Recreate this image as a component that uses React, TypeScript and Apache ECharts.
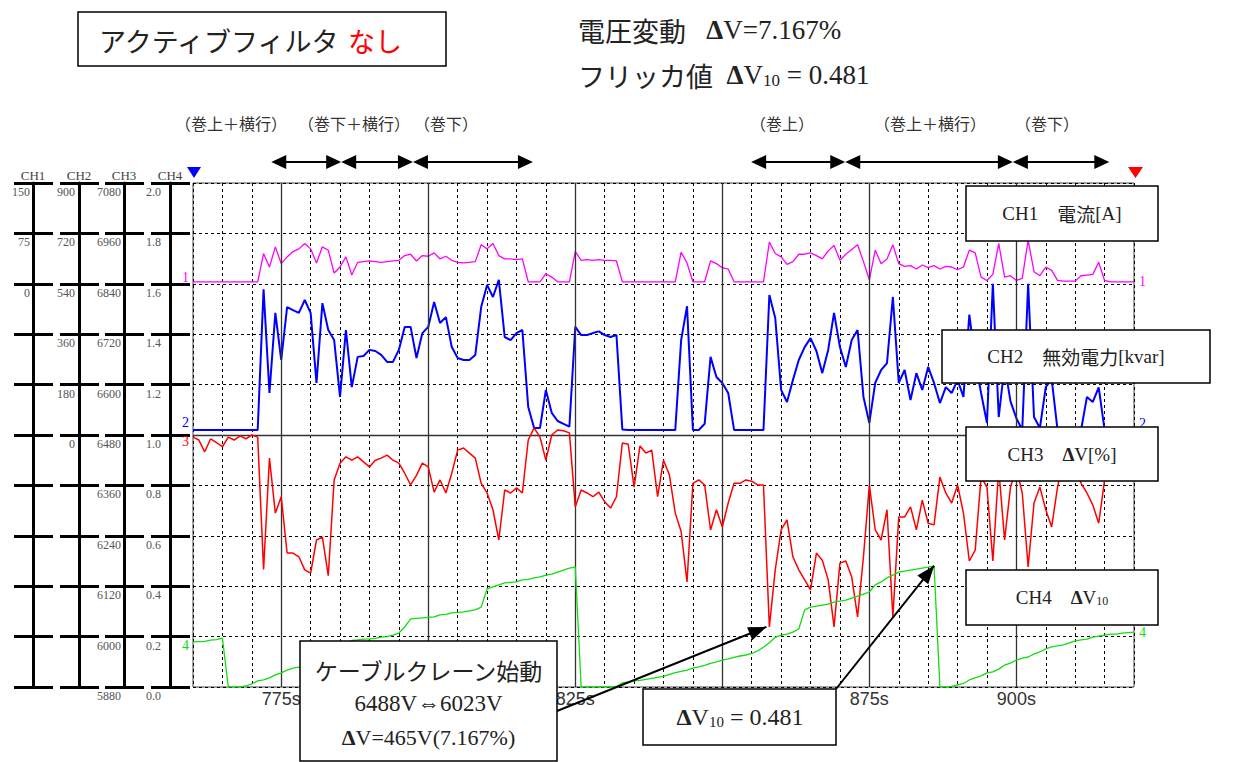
import React, { useEffect, useRef } from "react";
import * as echarts from "echarts";

// ---- time base (seconds) ----
const T0 = 760;
const STEP = 1;
const X_MIN = 760;
const X_MAX = 920;
const majorTimes = [775, 800, 825, 850, 875, 900];
// tick labels visible in the reference (800 s and 850 s sit under the note boxes)
const xTickLabels = [775, 825, 875, 900];

// ---- CH1 current [A], one value per second from 760 s ----
const ch1Current = [
  3, 3, 3, 3, 3, 3, 3, 3, 3, 3,
  3, 3, 45, 25, 55, 30, 40, 48, 52, 60,
  52, 31, 55, 50, 16, 25, 40, 13, 32, 33,
  34, 33, 32, 33, 34, 35, 42, 44, 34, 42,
  41, 46, 37, 41, 35, 32, 31, 32, 33, 58,
  52, 60, 42, 37, 37, 36, 37, 3, 3, 3,
  15, 10, 3, 3, 3, 48, 35, 36, 35, 36,
  35, 35, 34, 3, 3, 3, 3, 3, 3, 3,
  3, 3, 3, 47, 31, 3, 3, 3, 34, 30,
  24, 22, 3, 3, 3, 3, 3, 3, 62, 45,
  40, 29, 33, 44, 44, 46, 42, 37, 49, 57,
  35, 44, 51, 58, 33, 6, 50, 30, 37, 58,
  30, 26, 27, 22, 28, 24, 27, 22, 26, 25,
  21, 25, 50, 46, 10, 5, 14, 60, 10, 12,
  5, 8, 65, 18, 12, 25, 20, 5, 4, 4,
  4, 12, 13, 14, 32, 5, 3, 3, 3, 3,
  3,
];

// ---- CH2 reactive power [kvar] ----
const ch2Reactive = [
  18, 18, 18, 18, 18, 18, 18, 18, 18, 18,
  18, 18, 520, 150, 436, 268, 457, 446, 436, 482,
  436, 186, 471, 375, 339, 136, 375, 171, 279, 282,
  304, 300, 286, 261, 261, 304, 386, 386, 275, 364,
  386, 475, 400, 421, 314, 275, 268, 268, 286, 457,
  536, 493, 554, 350, 339, 364, 375, 100, 25, 25,
  161, 79, 50, 40, 30, 386, 357, 357, 364, 370,
  357, 350, 357, 20, 18, 18, 18, 18, 18, 18,
  18, 18, 18, 339, 460, 18, 18, 40, 279, 207,
  186, 150, 18, 18, 18, 18, 18, 18, 500, 418,
  161, 118, 196, 268, 314, 346, 300, 221, 304, 436,
  314, 243, 339, 375, 136, 43, 186, 232, 257, 493,
  186, 232, 125, 221, 161, 243, 186, 114, 171, 150,
  196, 136, 430, 264, 150, 43, 540, 64, 250, 120,
  60, 18, 540, 64, 25, 171, 200, 18, 18, 18,
  18, 18, 136, 118, 170, 18, 18, 18, 18, 18,
  18,
];

// ---- CH3 voltage [V] ----
const ch3Voltage = [
  6475, 6468, 6440, 6471, 6462, 6452, 6475, 6468, 6478, 6471,
  6480, 6475, 6160, 6425, 6294, 6333, 6199, 6199, 6190, 6159,
  6151, 6230, 6237, 6145, 6373, 6413, 6428, 6420, 6428, 6416,
  6404, 6420, 6425, 6432, 6420, 6413, 6389, 6361, 6384, 6413,
  6404, 6344, 6373, 6342, 6389, 6444, 6449, 6437, 6425, 6365,
  6342, 6302, 6230, 6349, 6342, 6354, 6342, 6468, 6497, 6475,
  6420, 6480, 6492, 6490, 6485, 6309, 6349, 6342, 6333, 6344,
  6321, 6306, 6333, 6461, 6458, 6356, 6454, 6437, 6444, 6333,
  6420, 6385, 6294, 6250, 6130, 6365, 6373, 6361, 6254, 6302,
  6261, 6318, 6365, 6365, 6373, 6370, 6361, 6361, 6023, 6159,
  6254, 6278, 6190, 6159, 6135, 6111, 6199, 6182, 6135, 6023,
  6175, 6180, 6142, 6047, 6190, 6361, 6254, 6230, 6302, 6047,
  6285, 6285, 6309, 6254, 6325, 6270, 6266, 6380, 6342, 6318,
  6361, 6294, 6180, 6206, 6380, 6356, 6180, 6400, 6230, 6356,
  6400, 6342, 6166, 6318, 6356, 6302, 6261, 6356, 6420, 6440,
  6410, 6365, 6342, 6313, 6270, 6373, 6470, 6470, 6470, 6470,
  6470,
];

// ---- CH4 short-term flicker ΔV10 ----
const ch4Flicker = [
  0.179, 0.18, 0.181, 0.186, 0.188, 0.194, 0, 0, 0, 0.004,
  0.012, 0.024, 0.028, 0.036, 0.048, 0.056, 0.067, 0.075, 0.079, 0.083,
  0.087, 0.092, 0.097, 0.102, 0.11, 0.14, 0.165, 0.185, 0.187, 0.19,
  0.191, 0.193, 0.198, 0.2, 0.206, 0.214, 0.238, 0.27, 0.272, 0.274,
  0.276, 0.278, 0.286, 0.288, 0.294, 0.296, 0.298, 0.302, 0.306, 0.317,
  0.389, 0.397, 0.405, 0.413, 0.415, 0.417, 0.425, 0.427, 0.433, 0.437,
  0.444, 0.448, 0.456, 0.464, 0.472, 0.476, 0, 0, 0, 0,
  0, 0, 0.002, 0.016, 0.02, 0.024, 0.026, 0.03, 0.034, 0.038,
  0.042, 0.05, 0.057, 0.062, 0.067, 0.075, 0.08, 0.086, 0.094, 0.1,
  0.107, 0.112, 0.118, 0.123, 0.127, 0.133, 0.143, 0.158, 0.176, 0.197,
  0.206, 0.21, 0.218, 0.23, 0.306, 0.317, 0.321, 0.325, 0.329, 0.337,
  0.341, 0.345, 0.353, 0.361, 0.369, 0.377, 0.405, 0.417, 0.433, 0.444,
  0.456, 0.46, 0.464, 0.468, 0.472, 0.476, 0.481, 0, 0, 0.002,
  0.008, 0.014, 0.028, 0.036, 0.044, 0.056, 0.06, 0.071, 0.087, 0.095,
  0.107, 0.115, 0.119, 0.131, 0.139, 0.151, 0.159, 0.163, 0.167, 0.175,
  0.183, 0.187, 0.19, 0.198, 0.202, 0.206, 0.21, 0.21, 0.214, 0.216,
  0.218,
];

// ---- scale labels, top to bottom ----
const ch1Labels = ["150", "75", "0", "", "", "", "", "", "", "", ""];
const ch2Labels = ["900", "720", "540", "360", "180", "0", "", "", "", "", ""];
const ch3Labels = ["7080", "6960", "6840", "6720", "6600", "6480", "6360", "6240", "6120", "6000", "5880"];
const ch4Labels = ["2.0", "1.8", "1.6", "1.4", "1.2", "1.0", "0.8", "0.6", "0.4", "0.2", "0.0"];

// ---- crane operation phases (seconds) ----
const phaseStart = [773.3, 785.2, 797.4, 854.9, 870.9, 899.4];
const phaseEnd = [785.2, 797.4, 817.8, 870.9, 899.4, 915.8];
const phaseLabels = ["（巻上＋横行）", "（巻下＋横行）", "（巻下）", "（巻上）", "（巻上＋横行）", "（巻下）"];

const SERIF = "'Liberation Serif','DejaVu Serif','Noto Sans CJK JP',serif";
const JP = "'Noto Sans CJK JP','Liberation Serif',serif";
const SANS = "'Liberation Sans',Arial,sans-serif";

const COLORS = ["#ff00ff", "#0000ff", "#ff0000", "#11dd11"];

function rich(size: number, color = "#222") {
  return {
    j: { fontFamily: JP, fontSize: size, fill: color, color },
    l: { fontFamily: SERIF, fontSize: size, fill: color, color },
    d: { fontFamily: SERIF, fontSize: size, fontWeight: "bold", fill: color, color },
    r: { fontFamily: JP, fontSize: size, fill: "#ff0000", color: "#ff0000" },
    sub: { fontFamily: SERIF, fontSize: Math.round(size * 0.62), fill: color, color, verticalAlign: "bottom" },
  };
}

function head(tip: number[], from: number[], len: number, half: number) {
  const dx = tip[0] - from[0];
  const dy = tip[1] - from[1];
  const L = Math.hypot(dx, dy) || 1;
  const ux = dx / L;
  const uy = dy / L;
  const bx = tip[0] - ux * len;
  const by = tip[1] - uy * len;
  return {
    type: "polygon",
    z: 100,
    shape: { points: [[tip[0], tip[1]], [bx - uy * half, by + ux * half], [bx + uy * half, by - ux * half]] },
    style: { fill: "#000" },
  };
}

export default function App() {
  const ref = useRef<HTMLDivElement>(null);

  useEffect(() => {
    const el = ref.current!;
    const chart = echarts.init(el, undefined, { renderer: "svg" });
    const toPairs = (arr: number[]) => arr.map((v, i) => [T0 + i * STEP, v]);

    const channels = [
      { name: "CH1", min: -600, max: 150, interval: 75, offset: 160, margin: 3, labels: ch1Labels },
      { name: "CH2", min: -900, max: 900, interval: 180, offset: 114, margin: 4, labels: ch2Labels },
      { name: "CH3", min: 5880, max: 7080, interval: 120, offset: 69, margin: 3, labels: ch3Labels },
      { name: "CH4", min: 0, max: 2, interval: 0.2, offset: 23, margin: 9, labels: ch4Labels },
    ];

    const yAxes: any[] = [];
    channels.forEach((c, k) => {
      yAxes.push({
        type: "value",
        position: "left",
        offset: c.offset,
        min: c.min,
        max: c.max,
        interval: c.interval,
        name: c.name,
        nameLocation: "end",
        nameGap: 1,
        nameTextStyle: { color: "#444", fontFamily: SERIF, fontSize: 13, align: "center", verticalAlign: "bottom" },
        axisLine: { show: true, onZero: false, lineStyle: { color: "#000", width: 3 } },
        axisTick: { show: true, inside: false, length: 19, lineStyle: { color: "#000", width: 3 } },
        axisLabel: {
          show: true,
          margin: c.margin,
          color: "#555555",
          fontFamily: SERIF,
          fontSize: 12,
          verticalAlign: "top",
          padding: [3, 0, 0, 0],
          formatter: (_v: number, i: number) => c.labels[c.labels.length - 1 - i] ?? "",
        },
        splitLine: { show: k === 0, lineStyle: { color: "#000", type: [3, 3], width: 1 } },
      });
      yAxes.push({
        type: "value",
        position: "left",
        offset: c.offset,
        min: c.min,
        max: c.max,
        interval: c.interval,
        axisLine: { show: false, onZero: false },
        axisTick: { show: true, inside: true, length: 20, lineStyle: { color: "#000", width: 3 } },
        axisLabel: { show: false },
        splitLine: { show: false },
      });
    });

    const option: any = {
      animation: false,
      backgroundColor: "#ffffff",
      textStyle: { fontFamily: SERIF },
      grid: {
        left: 193,
        top: 183,
        right: 112,
        bottom: 75,
        show: true,
        borderColor: "#444",
        borderWidth: 1,
        backgroundColor: "transparent",
      },
      xAxis: {
        type: "value",
        min: X_MIN,
        max: X_MAX,
        interval: 5,
        axisLine: { show: false, onZero: false },
        axisTick: { show: false },
        axisLabel: {
          color: "#333",
          fontFamily: SANS,
          fontSize: 18,
          margin: 3,
          formatter: (v: number) => (xTickLabels.includes(Math.round(v)) ? `${Math.round(v)}s` : ""),
        },
        splitLine: { show: true, lineStyle: { color: "#000", type: [3, 3], width: 1 } },
      },
      yAxis: yAxes,
      series: [
        {
          type: "line",
          name: "CH1",
          yAxisIndex: 0,
          data: toPairs(ch1Current),
          showSymbol: false,
          symbol: "none",
          lineStyle: { color: COLORS[0], width: 1.3 },
          itemStyle: { color: COLORS[0] },
          z: 3,
          markLine: {
            silent: true,
            symbol: ["none", "none"],
            label: { show: false },
            lineStyle: { color: "#333", width: 1.3, type: "solid" },
            data: majorTimes.map((t) => ({ xAxis: t })),
          },
        },
        {
          type: "line",
          name: "CH2",
          yAxisIndex: 2,
          data: toPairs(ch2Reactive),
          showSymbol: false,
          symbol: "none",
          lineStyle: { color: COLORS[1], width: 2 },
          itemStyle: { color: COLORS[1] },
          z: 4,
          markLine: {
            silent: true,
            symbol: ["none", "none"],
            label: { show: false },
            lineStyle: { color: "#333", width: 1.3, type: "solid" },
            data: [{ yAxis: 0 }],
          },
        },
        {
          type: "line",
          name: "CH3",
          yAxisIndex: 4,
          data: toPairs(ch3Voltage),
          showSymbol: false,
          symbol: "none",
          lineStyle: { color: COLORS[2], width: 1.5 },
          itemStyle: { color: COLORS[2] },
          z: 5,
        },
        {
          type: "line",
          name: "CH4",
          yAxisIndex: 6,
          data: toPairs(ch4Flicker),
          showSymbol: false,
          symbol: "none",
          lineStyle: { color: COLORS[3], width: 1.3 },
          itemStyle: { color: COLORS[3] },
          z: 6,
        },
      ],
    };

    chart.setOption(option);

    // ---------- annotations ----------
    const els: any[] = [];
    const xp = (t: number) => chart.convertToPixel({ xAxisIndex: 0 }, t) as unknown as number;

    // cursor triangles
    els.push({ type: "polygon", z: 100, shape: { points: [[187, 167], [201, 167], [194, 178]] }, style: { fill: "#0000ff" } });
    els.push({ type: "polygon", z: 100, shape: { points: [[1128, 167], [1143, 167], [1135.5, 178]] }, style: { fill: "#ff0000" } });

    // phase arrows
    const arrowY = 162;
    const phaseLabelX = [231, 354, 446, 782, 930, 1047];
    phaseStart.forEach((s, i) => {
      const x1 = xp(s);
      const x2 = xp(phaseEnd[i]);
      els.push({ type: "line", z: 100, shape: { x1: x1 + 8, y1: arrowY, x2: x2 - 8, y2: arrowY }, style: { stroke: "#000", lineWidth: 2 } });
      els.push(head([x1, arrowY], [x2, arrowY], 15, 7));
      els.push(head([x2, arrowY], [x1, arrowY], 15, 7));
      els.push({
        type: "text",
        z: 100,
        x: phaseLabelX[i],
        y: 123,
        style: { text: phaseLabels[i], fontFamily: JP, fontSize: 16, fill: "#333", align: "center", verticalAlign: "middle" },
      });
    });

    // channel number markers at trace start / end
    const traces = [ch1Current, ch2Reactive, ch3Voltage, ch4Flicker];
    const startShift = [-4, -7, 4, 4];
    const showEnd = [true, true, false, true];
    traces.forEach((arr, k) => {
      const first = chart.convertToPixel({ seriesIndex: k }, [T0, arr[0]]) as unknown as number[];
      const lastT = T0 + (arr.length - 1) * STEP;
      const last = chart.convertToPixel({ seriesIndex: k }, [lastT, arr[arr.length - 1]]) as unknown as number[];
      els.push({
        type: "text", z: 90, x: first[0] - 4, y: first[1] + startShift[k],
        style: { text: String(k + 1), fontFamily: SERIF, fontSize: 14, fill: COLORS[k], align: "right", verticalAlign: "middle" },
      });
      if (showEnd[k]) {
        els.push({
          type: "text", z: 90, x: last[0] + 5, y: last[1] - (k === 1 ? 6 : 0),
          style: { text: String(k + 1), fontFamily: SERIF, fontSize: 14, fill: COLORS[k], align: "left", verticalAlign: "middle" },
        });
      }
    });

    // title box
    els.push({ type: "rect", z: 100, shape: { x: 78, y: 12, width: 368, height: 54 }, style: { fill: "#fff", stroke: "#000", lineWidth: 1.5 } });
    els.push({
      type: "text", z: 101, x: 99, y: 40,
      style: { text: "{j|アクティブフィルタ}{j| }{r|なし}", rich: rich(27), align: "left", verticalAlign: "middle" },
    });

    // headline texts
    els.push({
      type: "text", z: 101, x: 578, y: 30,
      style: { text: "{j|電圧変動}{l|   }{d|Δ}{l|V=7.167%}", rich: rich(27), align: "left", verticalAlign: "middle" },
    });
    els.push({
      type: "text", z: 101, x: 578, y: 75,
      style: { text: "{j|フリッカ値}{l|  }{d|Δ}{l|V}{sub|10}{l| = 0.481}", rich: rich(27), align: "left", verticalAlign: "middle" },
    });

    // legend boxes
    const boxStyle = { fill: "#fff", stroke: "#000", lineWidth: 1.5 };
    const legendBoxes = [
      { x: 966, y: 186, w: 192, h: 55, text: "{l|CH1}{j|　電流}{l|[A]}" },
      { x: 942, y: 330, w: 268, h: 53, text: "{l|CH2}{j|　無効電力}{l|[kvar]}" },
      { x: 966, y: 427, w: 192, h: 54, text: "{l|CH3}{j|　}{d|Δ}{l|V[%]}" },
      { x: 966, y: 570, w: 192, h: 55, text: "{l|CH4}{j|　}{d|Δ}{l|V}{sub|10}" },
    ];
    legendBoxes.forEach((b) => {
      els.push({ type: "rect", z: 100, shape: { x: b.x, y: b.y, width: b.w, height: b.h }, style: boxStyle });
      els.push({
        type: "text", z: 101, x: b.x + b.w / 2, y: b.y + b.h / 2,
        style: { text: b.text, rich: rich(19), align: "center", verticalAlign: "middle" },
      });
    });

    // annotation arrows (targets taken from the data)
    const minV = Math.min(...ch3Voltage);
    const minIdx = ch3Voltage.indexOf(minV);
    const dipPt = chart.convertToPixel({ seriesIndex: 2 }, [T0 + minIdx * STEP, minV]) as unknown as number[];
    const maxF = Math.max(...ch4Flicker);
    const maxIdx = ch4Flicker.indexOf(maxF);
    const peakPt = chart.convertToPixel({ seriesIndex: 3 }, [T0 + maxIdx * STEP, maxF]) as unknown as number[];

    const fromA = [557, 711];
    const tipA = [dipPt[0] - 3, dipPt[1]];
    els.push({ type: "line", z: 100, shape: { x1: fromA[0], y1: fromA[1], x2: tipA[0], y2: tipA[1] }, style: { stroke: "#000", lineWidth: 2 } });
    els.push(head(tipA, fromA, 18, 7));
    const fromB = [836, 689];
    const tipB = [peakPt[0], peakPt[1]];
    els.push({ type: "line", z: 100, shape: { x1: fromB[0], y1: fromB[1], x2: tipB[0], y2: tipB[1] }, style: { stroke: "#000", lineWidth: 2 } });
    els.push(head(tipB, fromB, 18, 7));

    // annotation box 1
    els.push({ type: "rect", z: 100, shape: { x: 300, y: 641, width: 257, height: 120 }, style: boxStyle });
    els.push({
      type: "text", z: 101, x: 428.5, y: 670,
      style: { text: "ケーブルクレーン始動", fontFamily: JP, fontSize: 23, fill: "#222", align: "center", verticalAlign: "middle" },
    });
    els.push({
      type: "text", z: 101, x: 428.5, y: 703,
      style: { text: "6488V⇔6023V", fontFamily: SERIF, fontSize: 23, fill: "#222", align: "center", verticalAlign: "middle" },
    });
    els.push({
      type: "text", z: 101, x: 428.5, y: 737,
      style: { text: "{d|Δ}{l|V=465V(7.167%)}", rich: rich(22), align: "center", verticalAlign: "middle" },
    });

    // annotation box 2
    els.push({ type: "rect", z: 100, shape: { x: 643, y: 689, width: 193, height: 56 }, style: boxStyle });
    els.push({
      type: "text", z: 101, x: 740, y: 717,
      style: { text: "{d|Δ}{l|V}{sub|10}{l| = 0.481}", rich: rich(24), align: "center", verticalAlign: "middle" },
    });

    chart.setOption({ graphic: { elements: els } });

    return () => {
      chart.dispose();
    };
  }, []);

  return (
    <div
      ref={ref}
      style={{ position: "fixed", left: 0, top: 0, width: 1246, height: 762, background: "#fff" }}
    />
  );
}
